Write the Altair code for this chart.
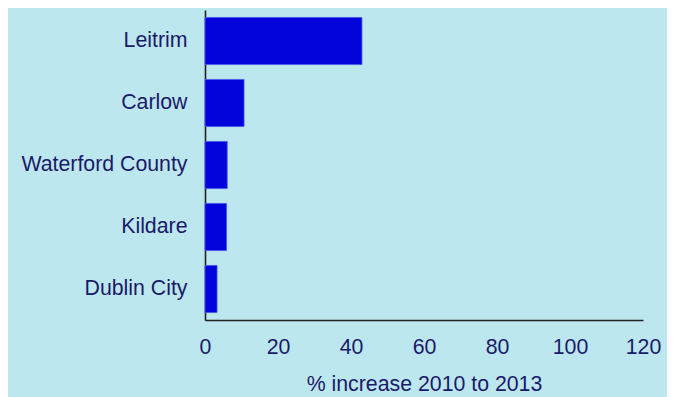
import altair as alt
import pandas as pd

regions = ["Leitrim", "Carlow", "Waterford County", "Kildare", "Dublin City"]
increase = [43.0, 10.7, 6.1, 5.9, 3.3]
x_ticks = [0, 20, 40, 60, 80, 100, 120]

df = pd.DataFrame({"region": regions, "value": increase})

TEXT = "#1a1a6a"
BG = "#bde7ee"
FS = 21.3

chart = (
    alt.Chart(df)
    .mark_bar(color="#0303dc", stroke="#4a55f0", strokeWidth=0.8)
    .encode(
        x=alt.X(
            "value:Q",
            scale=alt.Scale(domain=[0, 120], nice=False),
            axis=alt.Axis(
                values=x_ticks,
                title="% increase 2010 to 2013",
                grid=False,
                ticks=False,
                tickSize=0,
                labelFlush=False,
                labelPadding=16,
                titlePadding=16,
                domainColor="#222222",
                domainWidth=1.6,
            ),
        ),
        y=alt.Y(
            "region:N",
            sort=regions,
            scale=alt.Scale(paddingInner=0.24, paddingOuter=0.12),
            axis=alt.Axis(
                title=None,
                ticks=False,
                tickSize=0,
                labelPadding=18,
                domainColor="#222222",
                domainWidth=1.6,
            ),
        ),
    )
    .properties(
        width=438,
        height=310,
        background=BG,
        padding={"left": 197, "top": 2, "right": 24, "bottom": 79},
        autosize=alt.AutoSizeParams(type="none"),
    )
    .configure_view(stroke=None)
    .configure_axis(
        labelFont="Liberation Sans",
        titleFont="Liberation Sans",
        labelFontSize=FS,
        titleFontSize=FS,
        labelColor=TEXT,
        titleColor=TEXT,
        titleFontWeight="normal",
    )
)

chart.save("out.html", embed_options={"renderer": "svg", "actions": False})
